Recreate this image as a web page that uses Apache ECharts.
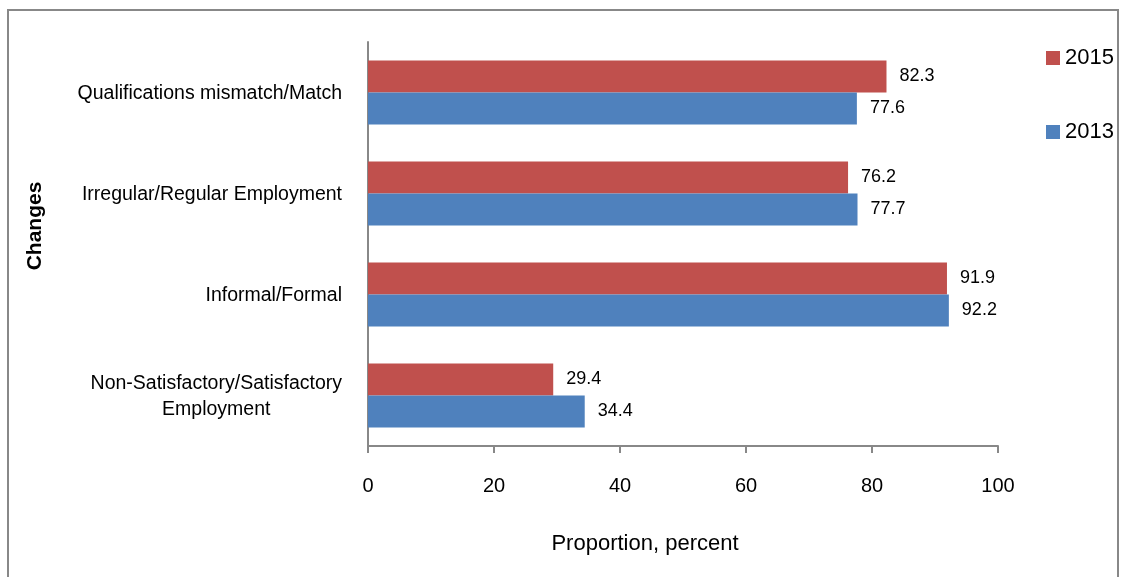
<!DOCTYPE html>
<html>
<head>
<meta charset="utf-8">
<script src="https://cdn.jsdelivr.net/npm/echarts@6/dist/echarts.min.js"></script>
<style>
  html, body { margin: 0; padding: 0; background: #fff; }
  #chart { width: 1126px; height: 577px; }
</style>
</head>
<body>
<div id="chart"></div>
<script>
// categories, top to bottom as in the picture
const categories = [
    'Qualifications mismatch/Match',
    'Irregular/Regular Employment',
    'Informal/Formal',
    'Non-Satisfactory/Satisfactory\nEmployment'
];
const values2015 = [82.3, 76.2, 91.9, 29.4];
const values2013 = [77.6, 77.7, 92.2, 34.4];
const xTicks = [0, 20, 40, 60, 80, 100];

const font = 'Liberation Sans';

const chart = echarts.init(document.getElementById('chart'));

const barLabel = {
    show: true,
    position: 'right',
    distance: 13,
    color: '#000',
    fontFamily: font,
    fontSize: 18
};

chart.setOption({
    animation: false,
    grid: { left: 368, right: 128, top: 42, bottom: 131, outerBoundsMode: 'none', containLabel: false },
    legend: {
        orient: 'vertical',
        left: 1041,
        top: 42,
        itemGap: 52,
        itemWidth: 14,
        itemHeight: 14,
        icon: 'rect',
        textStyle: { fontFamily: font, fontSize: 22, color: '#000' },
        data: ['2015', '2013']
    },
    xAxis: {
        type: 'value',
        min: xTicks[0],
        max: xTicks[xTicks.length - 1],
        interval: 20,
        name: 'Proportion, percent',
        nameLocation: 'middle',
        nameGap: 87,
        nameTextStyle: { fontFamily: font, fontSize: 22, color: '#000', padding: [0, 76, 0, 0] },
        axisLine: { show: true, lineStyle: { color: '#888', width: 2 } },
        axisTick: { show: true, length: 7, lineStyle: { color: '#888', width: 2 } },
        axisLabel: { margin: 30, fontFamily: font, fontSize: 20, color: '#000' },
        splitLine: { show: false }
    },
    yAxis: {
        type: 'category',
        inverse: true,
        data: categories,
        name: 'Changes',
        nameLocation: 'middle',
        nameGap: 322,
        nameRotate: 90,
        nameTextStyle: { fontFamily: font, fontSize: 21, fontWeight: 'bold', color: '#000', padding: [0, 0, 0, 36] },
        axisLine: { show: true, lineStyle: { color: '#888', width: 2 } },
        axisTick: { show: false },
        axisLabel: {
            margin: 26,
            formatter: v => '{c|' + v + '}',
            rich: { c: { align: 'center', fontFamily: font, fontSize: 19.5, color: '#000', lineHeight: 26, padding: [3, 0, 0, 0] } }
        }
    },
    graphic: [{
        type: 'rect',
        shape: { x: 8, y: 10, width: 1110, height: 600 },
        style: { fill: 'none', stroke: '#888', lineWidth: 2 },
        silent: true
    }],
    series: [
        {
            name: '2015',
            type: 'bar',
            data: values2015,
            barWidth: 32,
            barGap: '0%',
            itemStyle: { color: '#C0504D' },
            label: barLabel
        },
        {
            name: '2013',
            type: 'bar',
            data: values2013,
            barWidth: 32,
            barGap: '0%',
            itemStyle: { color: '#4F81BD' },
            label: barLabel
        }
    ]
});
</script>
</body>
</html>
